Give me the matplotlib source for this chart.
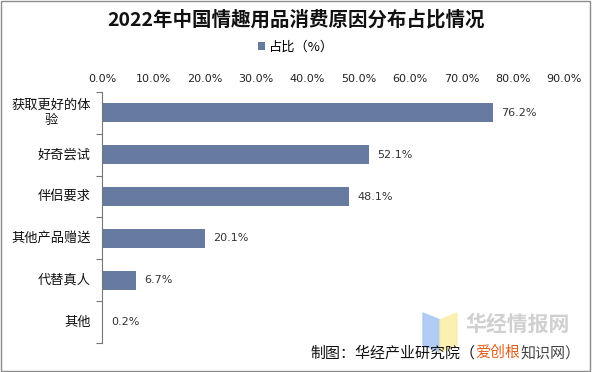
import matplotlib.pyplot as plt
from matplotlib.patches import Polygon, Rectangle

plt.rcParams['font.family'] = ['Noto Sans CJK SC', 'DejaVu Sans']

# 数据
categories = ['获取更好的体\n验', '好奇尝试', '伴侣要求', '其他产品赠送', '代替真人', '其他']
values = [76.2, 52.1, 48.1, 20.1, 6.7, 0.2]
xticks = [0, 10, 20, 30, 40, 50, 60, 70, 80, 90]
bar_color = '#677BA1'

fig = plt.figure(figsize=(5.92, 3.72), dpi=100)
fig.patches.append(Rectangle((0.002, 0.003), 0.995, 0.994, transform=fig.transFigure,
                             fill=False, edgecolor='#8c8c8c', linewidth=1.0))

ax = fig.add_axes([0.1723, 0.078, 0.7804, 0.6747])
y = list(range(len(categories)))
ax.barh(y, values, height=0.45, color=bar_color, label='占比（%）')
ax.set_ylim(len(categories) - 0.5, -0.5)
ax.set_xlim(0, 90)

for yi, v in zip(y, values):
    ax.text(v + 1.6, yi, f'{v:.1f}%', va='center', ha='left', fontsize=8,
            color='#333333', family='DejaVu Sans')

ax.xaxis.tick_top()
ax.set_xticks(xticks)
ax.set_xticklabels([f'{t:.1f}%' for t in xticks], fontsize=8, color='#222222',
                   family='DejaVu Sans')
ax.tick_params(axis='x', length=0, pad=6)

ax.set_yticks([i - 0.5 for i in range(len(categories) + 1)])
ax.set_yticklabels([''] * (len(categories) + 1))
ax.tick_params(axis='y', direction='out', length=4, color='#777777')
for yi, c in zip(y, categories):
    ax.text(-2.2, yi, c, ha='right', va='center', fontsize=9.5, color='#111111',
            multialignment='center')

for s in ['top', 'right', 'bottom']:
    ax.spines[s].set_visible(False)
ax.spines['left'].set_color('#777777')

fig.text(0.5, 0.946, '2022年中国情趣用品消费原因分布占比情况', ha='center', va='center',
         fontsize=14, fontweight='bold', color='#111111')

fig.legend(loc='center', bbox_to_anchor=(0.5, 0.874), frameon=False, fontsize=9.5,
           handlelength=0.6, handleheight=0.6, handletextpad=0.3)

# 水印
fig.patches.append(Polygon([(423 / 592, 1 - 313 / 372), (440 / 592, 1 - 320 / 372),
                            (440 / 592, 1 - 352 / 372), (423 / 592, 1 - 345 / 372)],
                           closed=True, transform=fig.transFigure, color='#a9c8f5', alpha=0.9))
fig.patches.append(Polygon([(440 / 592, 1 - 320 / 372), (457 / 592, 1 - 313 / 372),
                            (457 / 592, 1 - 345 / 372), (440 / 592, 1 - 352 / 372)],
                           closed=True, transform=fig.transFigure, color='#fbeeaa', alpha=0.9))
fig.text(518 / 592, 1 - 324 / 372, '华经情报网', ha='center', va='center', fontsize=15,
         fontweight='bold', color='#d0d0d0')

t1 = fig.text(310 / 592, 1 - 353 / 372, '制图：华经产业研究院（', ha='left', va='center',
              fontsize=10.8, color='#111111')
t2 = ax.annotate('爱创根', xy=(1, 0), xycoords=t1, va='bottom', ha='left',
                 fontsize=10.8, color='#e0621e', annotation_clip=False)
ax.annotate('知识网）', xy=(1, 0), xycoords=t2, va='bottom', ha='left',
            fontsize=10.8, color='#444444', annotation_clip=False)

fig.savefig('out.png', dpi=100)
